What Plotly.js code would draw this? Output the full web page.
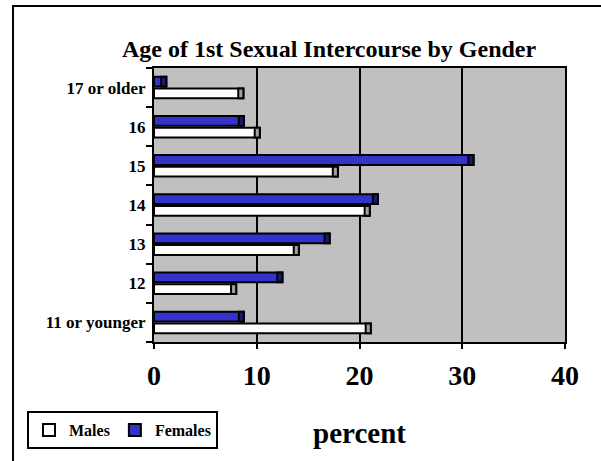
<!DOCTYPE html>
<html>
<head>
<meta charset="utf-8">
<script src="https://cdn.plot.ly/plotly-3.0.1.min.js"></script>
<style>html,body{margin:0;padding:0;background:#fff;}#chart{width:601px;height:461px;}</style>
</head>
<body>
<div id="chart"></div>
<script>
// Data
const categories = ["11 or younger", "12", "13", "14", "15", "16", "17 or older"];
const males   = [21.1, 8.0, 14.1, 21.0, 17.9, 10.3, 8.7];
const females = [8.75, 12.5, 17.1, 21.8, 31.1, 8.75, 1.2];
const xTicks = [0, 10, 20, 30, 40];
const seriesNames = ["Males", "Females"];

const FONT = '"Liberation Serif", "Times New Roman", serif';
const CAP = 0.5;
const BW = 0.25;

function capBase(arr){ return arr.map(v => v - CAP); }
function capLen(arr){ return arr.map(() => CAP); }

const traces = [
  { type: 'bar', orientation: 'h', name: seriesNames[0], y: categories, x: males,
    offset: -0.275, width: BW,
    marker: { color: '#ffffff', line: { color: '#000000', width: 2 } }, hoverinfo: 'none' },
  { type: 'bar', orientation: 'h', name: seriesNames[1], y: categories, x: females,
    offset: 0.025, width: BW,
    marker: { color: '#3333cc', line: { color: '#000000', width: 2 } }, hoverinfo: 'none' },
  { type: 'bar', orientation: 'h', showlegend: false, y: categories, x: capLen(males), base: capBase(males),
    offset: -0.275, width: BW,
    marker: { color: '#a0a0a0', line: { color: '#000000', width: 2 } }, hoverinfo: 'none' },
  { type: 'bar', orientation: 'h', showlegend: false, y: categories, x: capLen(females), base: capBase(females),
    offset: 0.025, width: BW,
    marker: { color: '#1a1a70', line: { color: '#000000', width: 2 } }, hoverinfo: 'none' }
];

const layout = {
  width: 601, height: 461,
  margin: { l: 154, r: 36, t: 68, b: 115 },
  paper_bgcolor: '#ffffff',
  plot_bgcolor: '#c0c0c0',
  barmode: 'overlay',
  font: { family: FONT, color: '#000000' },
  title: { text: 'Age of 1st Sexual Intercourse by Gender',
           font: { family: FONT, size: 24, weight: 'bold', color: '#000' },
           x: 0.426, xref: 'paper', xanchor: 'center', y: 0.894, yref: 'container', yanchor: 'middle' },
  xaxis: {
    range: [0, 40], tickvals: xTicks, ticktext: xTicks.map(String),
    showgrid: true, gridcolor: '#000000', gridwidth: 2,
    zeroline: false,
    showline: true, linecolor: '#000000', linewidth: 2, mirror: true,
    ticks: 'outside', ticklen: 5, tickwidth: 2, tickcolor: '#000000',
    ticklabelstandoff: 2,
    tickfont: { family: FONT, size: 28, weight: 'bold', color: '#000' },
    title: { text: 'percent', font: { family: FONT, size: 29, weight: 'bold', color: '#000' }, standoff: 33 },
    fixedrange: true
  },
  yaxis: {
    type: 'category', categoryorder: 'array', categoryarray: categories,
    showgrid: false, zeroline: false,
    showline: true, linecolor: '#000000', linewidth: 2, mirror: true,
    ticks: 'outside', tickson: 'boundaries', ticklen: 6, tickwidth: 2, tickcolor: '#000000',
    ticklabelstandoff: 3,
    tickfont: { family: FONT, size: 17, weight: 'bold', color: '#000' },
    fixedrange: true
  },
  showlegend: true,
  legend: {
    orientation: 'h', x: -0.309, xanchor: 'left', y: -0.252, yanchor: 'top',
    bgcolor: '#ffffff', bordercolor: '#000000', borderwidth: 2,
    font: { family: FONT, size: 16, weight: 'bold', color: '#000' },
    traceorder: 'normal'
  },
  shapes: [
    { type: 'rect', xref: 'paper', yref: 'paper', x0: -0.343, x1: 2, y0: -1, y1: 1.2266,
      line: { color: '#000000', width: 2 }, fillcolor: 'rgba(0,0,0,0)', layer: 'below' }
  ]
};

Plotly.newPlot('chart', traces, layout, { displayModeBar: false, staticPlot: true });
</script>
</body>
</html>
